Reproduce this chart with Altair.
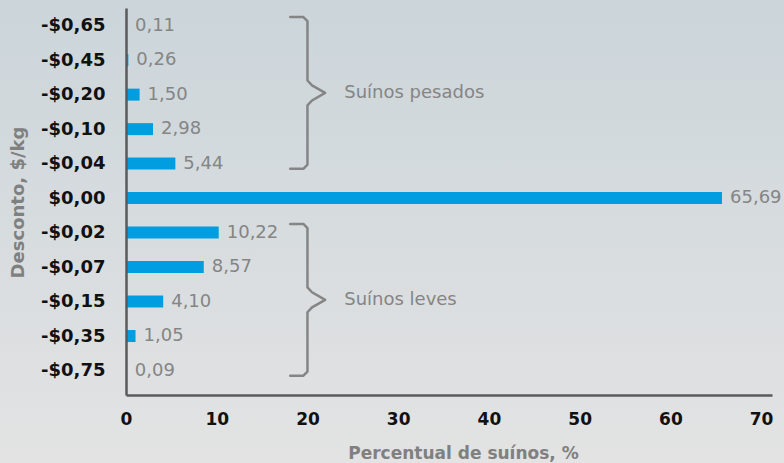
import altair as alt
import pandas as pd

# ---- data ----
categories = ["-$0,65", "-$0,45", "-$0,20", "-$0,10", "-$0,04", "$0,00",
              "-$0,02", "-$0,07", "-$0,15", "-$0,35", "-$0,75"]
percent = [0.11, 0.26, 1.50, 2.98, 5.44, 65.69, 10.22, 8.57, 4.10, 1.05, 0.09]

group_names = ["Suínos pesados", "Suínos leves"]
group_first = [0, 6]
group_last = [4, 10]

# ---- tables ----
bars = pd.DataFrame({
    "row": list(range(len(categories))),
    "cat": categories,
    "pct": percent,
    "label": [f"{v:.2f}".replace(".", ",") for v in percent],
})

BX = 20.0  # brace spine position (data units of x)
brace_rows = []
label_rows = []
for name, a, b in zip(group_names, group_first, group_last):
    top = a - 0.25
    bot = b + 0.15
    mid = (top + bot) / 2
    pts = [(BX - 1.9, top), (BX - 0.45, top), (BX, top + 0.12),
           (BX, mid - 0.36), (BX + 0.5, mid - 0.22), (BX + 1.95, mid),
           (BX + 0.5, mid + 0.22), (BX, mid + 0.36),
           (BX, bot - 0.12), (BX - 0.45, bot), (BX - 1.9, bot)]
    for i, (px, py) in enumerate(pts):
        brace_rows.append({"g": name, "i": i, "bx": px, "by": py})
    label_rows.append({"g": name, "lx": BX + 4.05, "ly": mid})
braces = pd.DataFrame(brace_rows)
glabels = pd.DataFrame(label_rows)

x_scale = alt.Scale(domain=[0, 71.2], nice=False, zero=True)
y_scale = alt.Scale(domain=[-0.367, 10.565], reverse=True, nice=False, zero=False)

label_expr = "[" + ",".join(f"'{c}'" for c in categories) + "][datum.value]"

FONT = "DejaVu Sans"

x_axis = alt.Axis(values=list(range(0, 71, 10)), title="Percentual de suínos, %",
                  grid=False, ticks=False, labelFont=FONT, labelFontSize=17,
                  labelFontWeight="bold", labelColor="#111111", labelPadding=16,
                  labelFlush=False, labelOverlap=False,
                  domainColor="#5a5a5a", domainWidth=2.5,
                  titleFont=FONT, titleFontSize=17, titleFontWeight="bold",
                  titleColor="#808080", titleX=337, titleY=63,
                  titleBaseline="alphabetic", titleAlign="center", zindex=1)
y_axis = alt.Axis(values=list(range(len(categories))), labelExpr=label_expr,
                  title="Desconto, $/kg", grid=False, ticks=False,
                  labelFont=FONT, labelFontSize=18, labelFontWeight="bold",
                  labelColor="#111111", labelPadding=21,
                  labelFlush=False, labelOverlap=False, labelBound=False,
                  domainColor="#5a5a5a", domainWidth=2.5,
                  titleFont=FONT, titleFontSize=18, titleFontWeight="bold",
                  titleColor="#808080", titleX=-108, titleY=194,
                  titleAngle=270, titleAlign="center", titleBaseline="middle", zindex=1)

bg = alt.Chart(pd.DataFrame({"a": [0]})).mark_rect(
    color=alt.LinearGradient(
        gradient="linear",
        stops=[alt.GradientStop(color="#cbd5da", offset=0),
               alt.GradientStop(color="#e3e3e3", offset=1)],
        x1=0, x2=0, y1=0, y2=1),
).encode(x=alt.value(-126), x2=alt.value(658), y=alt.value(-8), y2=alt.value(455))

bar_layer = alt.Chart(bars).mark_bar(color="#009EE0", size=12, orient="horizontal").encode(
    x=alt.X("pct:Q", scale=x_scale, axis=x_axis),
    y=alt.Y("row:Q", scale=y_scale, axis=y_axis),
)

value_text = alt.Chart(bars).mark_text(
    align="left", baseline="middle", dx=8, font=FONT, fontSize=18, color="#858585"
).encode(
    x=alt.X("pct:Q", scale=x_scale, axis=x_axis),
    y=alt.Y("row:Q", scale=y_scale, axis=y_axis),
    text="label:N",
)

brace_layer = alt.Chart(braces).mark_line(
    color="#858585", strokeWidth=2.5, strokeJoin="round", strokeCap="round"
).encode(
    x=alt.X("bx:Q", scale=x_scale, axis=x_axis),
    y=alt.Y("by:Q", scale=y_scale, axis=y_axis),
    detail="g:N",
    order="i:Q",
)

group_text = alt.Chart(glabels).mark_text(
    align="left", baseline="middle", font=FONT, fontSize=18, color="#858585"
).encode(
    x=alt.X("lx:Q", scale=x_scale, axis=x_axis),
    y=alt.Y("ly:Q", scale=y_scale, axis=y_axis),
    text="g:N",
)

chart = alt.layer(bg, bar_layer, value_text, brace_layer, group_text).properties(
    width=646, height=387,
    autosize=alt.AutoSizeParams(type="none"),
    padding={"left": 126, "top": 8, "right": 12, "bottom": 68},
    background="#dde0e2",
).configure_view(stroke=None).configure_axis(labelOverlap=False, labelFlush=False)

chart.save("out.html", embed_options={"renderer": "svg", "actions": False})
